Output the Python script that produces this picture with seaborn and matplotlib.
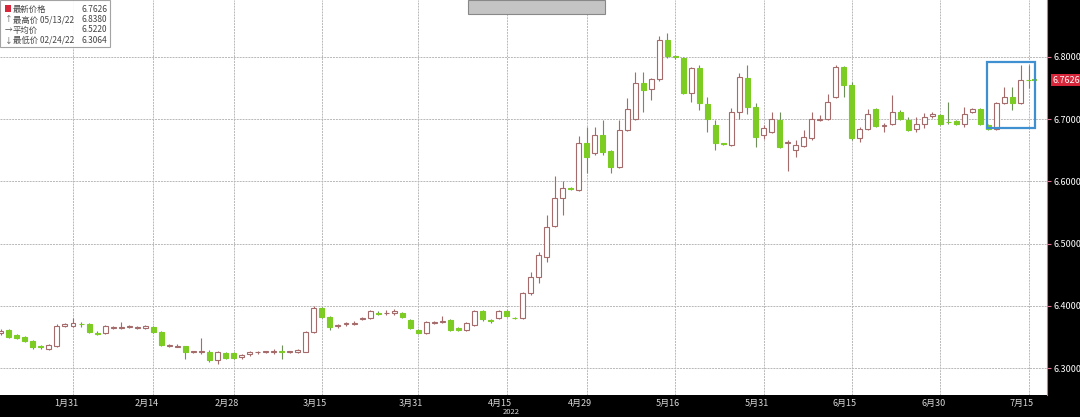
import numpy as np
import pandas as pd
import matplotlib
matplotlib.use("Agg")
import matplotlib.pyplot as plt
import matplotlib.transforms as mtransforms
from matplotlib.patches import Rectangle
import seaborn as sns

# 日线 OHLC（2022-01-18 ~ 2022-07-15，交易日）
dates = pd.bdate_range("2022-01-18", "2022-07-15")
open_ = [6.356, 6.361, 6.353, 6.350, 6.343, 6.335, 6.331, 6.336, 6.368, 6.368,
         6.371, 6.370, 6.357, 6.356, 6.364, 6.364, 6.366, 6.364, 6.365, 6.366,
         6.358, 6.336, 6.334, 6.335, 6.326, 6.326, 6.326, 6.313, 6.324, 6.324,
         6.318, 6.323, 6.325, 6.326, 6.325, 6.327, 6.326, 6.326, 6.326, 6.358,
         6.396, 6.382, 6.368, 6.370, 6.371, 6.379, 6.380, 6.389, 6.388, 6.388,
         6.388, 6.377, 6.361, 6.356, 6.372, 6.374, 6.377, 6.364, 6.361, 6.369,
         6.391, 6.377, 6.380, 6.391, 6.381, 6.380, 6.420, 6.447, 6.479, 6.528,
         6.573, 6.589, 6.586, 6.661, 6.645, 6.675, 6.649, 6.623, 6.683, 6.701,
         6.758, 6.748, 6.764, 6.827, 6.801, 6.798, 6.742, 6.782, 6.724, 6.691,
         6.661, 6.659, 6.712, 6.766, 6.719, 6.675, 6.680, 6.699, 6.662, 6.650,
         6.657, 6.669, 6.699, 6.700, 6.736, 6.784, 6.755, 6.669, 6.685, 6.716,
         6.689, 6.693, 6.712, 6.699, 6.685, 6.693, 6.705, 6.707, 6.696, 6.697,
         6.693, 6.712, 6.716, 6.691, 6.685, 6.726, 6.736, 6.726, 6.7636]
high = [6.363, 6.363, 6.355, 6.352, 6.345, 6.337, 6.338, 6.370, 6.372, 6.380,
        6.374, 6.372, 6.359, 6.369, 6.368, 6.374, 6.369, 6.368, 6.369, 6.368,
        6.359, 6.338, 6.338, 6.336, 6.328, 6.348, 6.329, 6.327, 6.326, 6.326,
        6.323, 6.328, 6.328, 6.328, 6.330, 6.337, 6.328, 6.331, 6.360, 6.399,
        6.398, 6.384, 6.371, 6.374, 6.375, 6.382, 6.393, 6.391, 6.394, 6.395,
        6.390, 6.379, 6.363, 6.376, 6.376, 6.383, 6.379, 6.366, 6.374, 6.393,
        6.393, 6.378, 6.393, 6.393, 6.382, 6.422, 6.455, 6.486, 6.546, 6.608,
        6.600, 6.591, 6.673, 6.688, 6.688, 6.699, 6.651, 6.699, 6.734, 6.776,
        6.776, 6.766, 6.833, 6.838, 6.803, 6.800, 6.784, 6.787, 6.736, 6.699,
        6.662, 6.718, 6.774, 6.787, 6.726, 6.690, 6.712, 6.712, 6.666, 6.666,
        6.683, 6.712, 6.707, 6.740, 6.787, 6.786, 6.760, 6.687, 6.716, 6.718,
        6.694, 6.739, 6.714, 6.704, 6.704, 6.710, 6.712, 6.709, 6.728, 6.699,
        6.719, 6.718, 6.718, 6.693, 6.728, 6.752, 6.752, 6.787, 6.787]
low = [6.353, 6.348, 6.346, 6.341, 6.330, 6.331, 6.329, 6.334, 6.366, 6.366,
       6.366, 6.357, 6.353, 6.355, 6.362, 6.362, 6.364, 6.362, 6.363, 6.357,
       6.336, 6.334, 6.333, 6.315, 6.324, 6.323, 6.310, 6.3064, 6.314, 6.314,
       6.315, 6.320, 6.323, 6.324, 6.323, 6.314, 6.324, 6.324, 6.325, 6.356,
       6.380, 6.361, 6.365, 6.367, 6.369, 6.377, 6.378, 6.385, 6.385, 6.386,
       6.380, 6.362, 6.355, 6.354, 6.370, 6.372, 6.359, 6.359, 6.359, 6.367,
       6.376, 6.373, 6.378, 6.382, 6.378, 6.379, 6.418, 6.437, 6.471, 6.526,
       6.546, 6.586, 6.584, 6.613, 6.642, 6.642, 6.613, 6.621, 6.681, 6.699,
       6.712, 6.731, 6.762, 6.799, 6.797, 6.740, 6.728, 6.715, 6.680, 6.650,
       6.658, 6.657, 6.700, 6.708, 6.656, 6.668, 6.678, 6.654, 6.616, 6.640,
       6.655, 6.667, 6.697, 6.698, 6.734, 6.736, 6.667, 6.664, 6.683, 6.687,
       6.680, 6.691, 6.698, 6.681, 6.680, 6.686, 6.702, 6.691, 6.693, 6.690,
       6.687, 6.710, 6.691, 6.683, 6.683, 6.724, 6.715, 6.724, 6.750]
close = [6.360, 6.350, 6.349, 6.343, 6.334, 6.333, 6.337, 6.368, 6.370, 6.372,
         6.370, 6.358, 6.354, 6.367, 6.366, 6.366, 6.367, 6.366, 6.367, 6.358,
         6.337, 6.336, 6.336, 6.326, 6.326, 6.327, 6.313, 6.325, 6.316, 6.316,
         6.321, 6.325, 6.326, 6.326, 6.328, 6.326, 6.326, 6.329, 6.358, 6.396,
         6.382, 6.366, 6.369, 6.372, 6.373, 6.380, 6.391, 6.387, 6.388, 6.392,
         6.382, 6.364, 6.357, 6.374, 6.374, 6.375, 6.361, 6.361, 6.372, 6.391,
         6.378, 6.376, 6.391, 6.384, 6.380, 6.420, 6.447, 6.482, 6.527, 6.573,
         6.589, 6.588, 6.661, 6.640, 6.675, 6.648, 6.623, 6.683, 6.717, 6.758,
         6.747, 6.764, 6.827, 6.801, 6.800, 6.742, 6.782, 6.726, 6.700, 6.661,
         6.660, 6.712, 6.768, 6.720, 6.672, 6.686, 6.700, 6.656, 6.664, 6.659,
         6.672, 6.701, 6.701, 6.728, 6.784, 6.755, 6.669, 6.685, 6.709, 6.689,
         6.691, 6.712, 6.700, 6.683, 6.693, 6.704, 6.708, 6.693, 6.695, 6.693,
         6.709, 6.716, 6.693, 6.685, 6.726, 6.736, 6.726, 6.763, 6.7626]

tick_labels = ["1月31", "2月14", "2月28", "3月15", "3月31", "4月15",
               "4月29", "5月16", "5月31", "6月15", "6月30", "7月15"]
tick_dates = pd.to_datetime(["2022-01-31", "2022-02-14", "2022-02-28", "2022-03-15",
                             "2022-03-31", "2022-04-15", "2022-04-29", "2022-05-16",
                             "2022-05-31", "2022-06-15", "2022-06-30", "2022-07-15"])
y_ticks = [6.3, 6.4, 6.5, 6.6, 6.7, 6.8]
last_price = 6.7626

df = pd.DataFrame({"date": dates, "open": open_, "high": high, "low": low, "close": close})
df["idx"] = np.arange(len(df))
df["up"] = df["close"] >= df["open"]
df["bottom"] = df[["open", "close"]].min(axis=1)
df["height"] = (df["close"] - df["open"]).abs().clip(lower=0.0007)

sns.set_style("white")
plt.rcParams["font.family"] = ["Noto Sans CJK SC", "DejaVu Sans"]

fig = plt.figure(figsize=(10.8, 4.17), dpi=100, facecolor="black")
ax = fig.add_axes([0, 22 / 417, 1047 / 1080, 395 / 417])
ax.set_facecolor("white")

green = "#7dcc24"
hollow_edge = "#a56b6b"

up = df[df["up"]]
dn = df[~df["up"]]
# 影线
ax.vlines(up["idx"], up["low"], up["high"], color=hollow_edge, lw=0.8, zorder=2)
ax.vlines(dn["idx"], dn["low"], dn["high"], color="#6f8f5a", lw=0.8, zorder=2)
# 实体
ax.bar(up["idx"], up["height"], bottom=up["bottom"], width=0.62,
       color="white", edgecolor=hollow_edge, linewidth=0.8, zorder=3)
ax.bar(dn["idx"], dn["height"], bottom=dn["bottom"], width=0.62,
       color=green, edgecolor=green, linewidth=0.8, zorder=3)

# 最新价格线
n = len(df)
ax.hlines(last_price, n - 1 + 0.4, n - 1 + 1.1, color=green, lw=1.5, zorder=4)

# 高亮框
ax.add_patch(Rectangle((n - 7 + 0.8, 6.686), 6.0, 0.106, fill=False,
                       edgecolor="#3f90d0", lw=1.6, zorder=5))

xpos = [df.index[df["date"] == d][0] for d in tick_dates]
ax.set_xlim(-0.09, 130.3)
ax.set_ylim(6.2566, 6.8916)
ax.set_xticks(xpos)
ax.set_xticklabels(tick_labels)
ax.set_yticks(y_ticks)
ax.set_yticklabels([f"{v:.4f}" for v in y_ticks])
ax.yaxis.tick_right()
ax.grid(True, color="#b8b8b8", lw=0.7, ls=(0, (2, 1)))
ax.set_axisbelow(True)
for s in ax.spines.values():
    s.set_visible(False)
ax.spines["right"].set_visible(True)
ax.spines["right"].set_color("#e0708e")
ax.spines["right"].set_linewidth(0.8)
ax.tick_params(axis="y", colors="#e0708e", labelcolor="white", length=3, pad=2, labelsize=6.5)
ax.tick_params(axis="x", colors="#808080", labelcolor="#d8d8d8", length=2, pad=1, labelsize=6.5)
shift = mtransforms.ScaledTranslation(-7 / 100, 0, fig.dpi_scale_trans)
for lbl in ax.get_xticklabels():
    lbl.set_transform(lbl.get_transform() + shift)

# 最新价格标签
ax.annotate(f"{last_price:.4f}", xy=(1.0, last_price), xycoords=("axes fraction", "data"),
            xytext=(4, 0), textcoords="offset points", va="center", ha="left",
            fontsize=6.5, color="white",
            bbox=dict(boxstyle="square,pad=0.15", fc="#d8263a", ec="none"), annotation_clip=False)

fig.text(511 / 1080, 1 - 412 / 417, "2022", color="#d8d8d8", fontsize=5.5, ha="center", va="center")

# 图例框
fig.patches.append(Rectangle((0, 1 - 47 / 417), 110 / 1080, 47 / 417, transform=fig.transFigure,
                             fc="white", ec="#999999", lw=0.8, alpha=0.9, zorder=10))
fig.patches.append(Rectangle((5 / 1080, 1 - 12 / 417), 6 / 1080, 7 / 417, transform=fig.transFigure,
                             fc="#d8263a", ec="none", zorder=11))
rows = [("", "最新价格", "6.7626"),
        ("↑", "最高价 05/13/22", "6.8380"),
        ("→", "平均价", "6.5220"),
        ("↓", "最低价 02/24/22", "6.3064")]
for i, (sym, lab, val) in enumerate(rows):
    yy = 1 - (9 + i * 10.5) / 417
    if sym:
        fig.text(5 / 1080, yy, sym, fontsize=5.5, color="#555555", va="center", zorder=12)
    fig.text(13 / 1080, yy, lab, fontsize=6, color="#444444", va="center", zorder=12)
    fig.text(107 / 1080, yy, val, fontsize=6, color="#444444", va="center", ha="right", zorder=12)

# 顶部工具栏
fig.patches.append(Rectangle((468 / 1080, 1 - 14 / 417), 137 / 1080, 14 / 417, transform=fig.transFigure,
                             fc="#c4c4c4", ec="#888888", lw=0.8, zorder=10))

fig.savefig("out.png", dpi=100, facecolor="black")
